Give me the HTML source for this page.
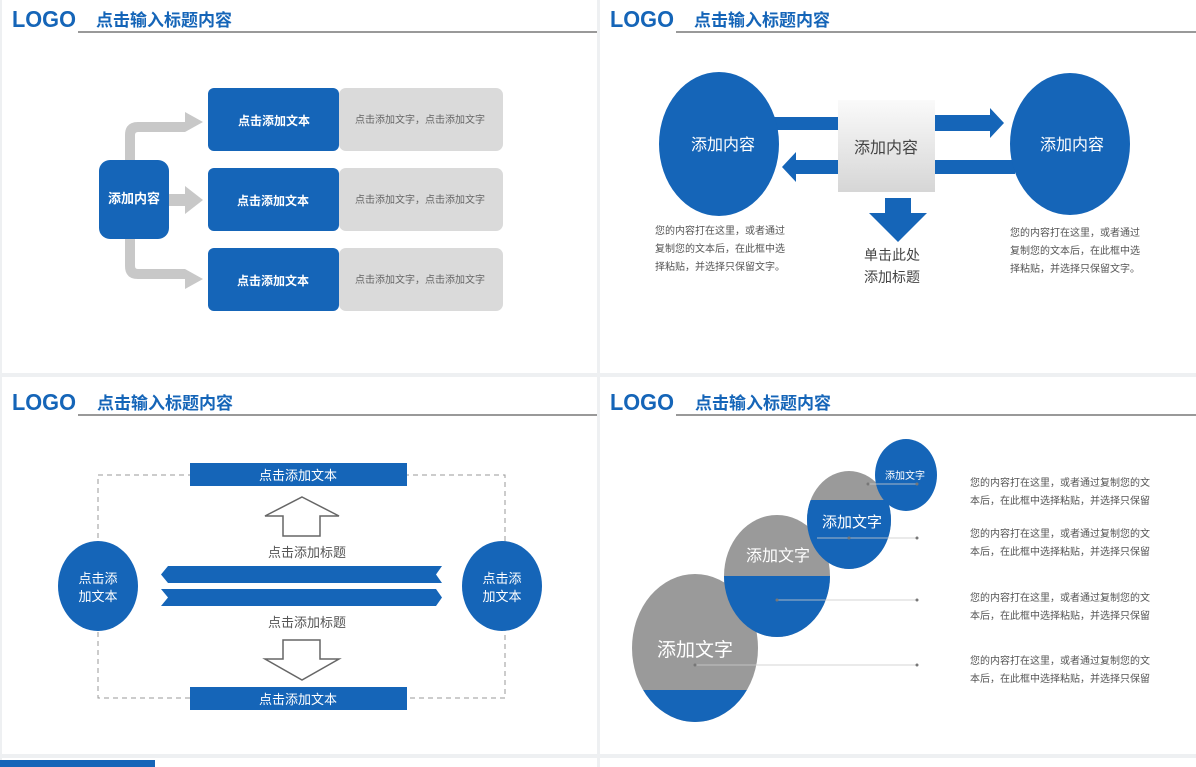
<!DOCTYPE html>
<html><head><meta charset="utf-8"><style>
html,body{margin:0;padding:0;background:#fff}
svg{display:block}
text{font-family:"Liberation Sans","Noto Sans CJK SC",sans-serif}
</style></head><body>
<svg width="1196" height="767" viewBox="0 0 1196 767" xmlns="http://www.w3.org/2000/svg">
<defs>
<linearGradient id="g1" x1="0" y1="0" x2="0" y2="1"><stop offset="0" stop-color="#fafafa"/><stop offset="1" stop-color="#d6d6d6"/></linearGradient>
<clipPath id="c1"><ellipse cx="695" cy="648" rx="63" ry="74"/></clipPath>
<clipPath id="c2"><ellipse cx="777" cy="576" rx="53" ry="61"/></clipPath>
<clipPath id="c3"><ellipse cx="849" cy="520" rx="42" ry="49"/></clipPath>
</defs>
<rect width="1196" height="767" fill="#fff"/>
<rect x="597" y="0" width="3" height="767" fill="#eef0f2"/>
<rect x="0" y="373" width="1196" height="4" fill="#eef0f2"/>
<rect x="0" y="754" width="1196" height="4" fill="#eef0f2"/>
<rect x="0" y="0" width="2" height="767" fill="#eef0f2"/>
<rect x="0" y="760" width="155" height="7" fill="#1565b8"/>

<g font-weight="bold" fill="#1565b8">
<text x="12" y="27" font-size="23" textLength="64" lengthAdjust="spacingAndGlyphs">LOGO</text>
<text x="96" y="26" font-size="17">点击输入标题内容</text>
<text x="610" y="27" font-size="23" textLength="64" lengthAdjust="spacingAndGlyphs">LOGO</text>
<text x="694" y="26" font-size="17">点击输入标题内容</text>
<text x="12" y="410" font-size="23" textLength="64" lengthAdjust="spacingAndGlyphs">LOGO</text>
<text x="97" y="409" font-size="17">点击输入标题内容</text>
<text x="610" y="410" font-size="23" textLength="64" lengthAdjust="spacingAndGlyphs">LOGO</text>
<text x="695" y="409" font-size="17">点击输入标题内容</text>
</g>
<g fill="#999">
<rect x="78" y="31" width="519" height="2"/>
<rect x="676" y="31" width="520" height="2"/>
<rect x="78" y="414" width="519" height="2"/>
<rect x="676" y="414" width="520" height="2"/>
</g>

<g fill="#c8c8c8">
<path d="M125 200 V135 Q125 122 138 122 H185 V112 L203 122 L185 132 V132 H138 Q135 132 135 135 V200Z"/>
<path d="M125 200 V266 Q125 279 138 279 H185 V289 L203 279 L185 269 V269 H138 Q135 269 135 266 V200Z"/>
<path d="M165 194 H185 V186 L203 200 L185 214 V206 H165Z"/>
</g>
<rect x="99" y="160" width="70" height="79" rx="11" fill="#1565b8"/>
<text x="134" y="203" font-size="13" font-weight="bold" fill="#fff" text-anchor="middle">添加内容</text>
<g>
<rect x="339" y="88" width="164" height="63" rx="7" fill="#dadada"/>
<rect x="339" y="168" width="164" height="63" rx="7" fill="#dadada"/>
<rect x="339" y="248" width="164" height="63" rx="7" fill="#dadada"/>
<rect x="208" y="88" width="131" height="63" rx="6" fill="#1565b8"/>
<rect x="208" y="168" width="131" height="63" rx="6" fill="#1565b8"/>
<rect x="208" y="248" width="131" height="63" rx="6" fill="#1565b8"/>
</g>
<g font-size="12" font-weight="bold" fill="#fff" text-anchor="middle">
<text x="274" y="125">点击添加文本</text>
<text x="273" y="205">点击添加文本</text>
<text x="273" y="285">点击添加文本</text>
</g>
<g font-size="10" fill="#666" text-anchor="middle">
<text x="420" y="123">点击添加文字，点击添加文字</text>
<text x="420" y="203">点击添加文字，点击添加文字</text>
<text x="420" y="283">点击添加文字，点击添加文字</text>
</g>

<g fill="#1565b8">
<rect x="770" y="117" width="70" height="13"/>
<path d="M935 115 H990 V108 L1004 123 L990 138 V131 H935Z"/>
<path d="M840 160 H796 V152 L782 167 L796 182 V174 H840Z"/>
<rect x="935" y="160" width="80" height="14"/>
<path d="M885 198 H911 V213 H927 L898 242 L869 213 H885Z"/>
<ellipse cx="719" cy="144" rx="60" ry="72"/>
<ellipse cx="1070" cy="144" rx="60" ry="71"/>
</g>
<rect x="838" y="100" width="97" height="92" fill="url(#g1)"/>
<g font-size="16" text-anchor="middle">
<text x="723" y="150" fill="#fff">添加内容</text>
<text x="1072" y="150" fill="#fff">添加内容</text>
<text x="886" y="153" fill="#444">添加内容</text>
<text x="892" y="260" font-size="14" fill="#444">单击此处</text>
<text x="892" y="282" font-size="14" fill="#444">添加标题</text>
</g>
<g font-size="10" fill="#555">
<text x="655" y="234">您的内容打在这里，或者通过</text>
<text x="655" y="252">复制您的文本后，在此框中选</text>
<text x="655" y="270">择粘贴，并选择只保留文字。</text>
<text x="1010" y="236">您的内容打在这里，或者通过</text>
<text x="1010" y="254">复制您的文本后，在此框中选</text>
<text x="1010" y="272">择粘贴，并选择只保留文字。</text>
</g>

<rect x="98" y="475" width="407" height="223" fill="none" stroke="#999" stroke-dasharray="5,4"/>
<g fill="#1565b8">
<rect x="190" y="463" width="217" height="23"/>
<rect x="190" y="687" width="217" height="23"/>
<ellipse cx="98" cy="586" rx="40" ry="45"/>
<ellipse cx="502" cy="586" rx="40" ry="45"/>
<path d="M168 566 H442 L436 574.5 L442 583 H168 L161 574.5Z"/>
<path d="M161 589 H436 L442 597.5 L436 606 H161 L168 597.5Z"/>
</g>
<g fill="#fff" stroke="#666" stroke-width="1.5">
<path d="M302 497 L339 516 H320 V536 H283 V516 H265Z"/>
<path d="M283 640 H320 V659 H339 L302 680 L265 659 H283Z"/>
</g>
<g font-size="13" fill="#fff" text-anchor="middle">
<text x="298" y="480">点击添加文本</text>
<text x="298" y="704">点击添加文本</text>
<text x="98" y="583">点击添</text>
<text x="98" y="601">加文本</text>
<text x="502" y="583">点击添</text>
<text x="502" y="601">加文本</text>
</g>
<g font-size="13" fill="#555" text-anchor="middle">
<text x="307" y="557">点击添加标题</text>
<text x="307" y="627">点击添加标题</text>
</g>

<g clip-path="url(#c1)"><rect x="630" y="570" width="130" height="155" fill="#9a9a9a"/><rect x="630" y="690" width="130" height="40" fill="#1565b8"/></g>
<g clip-path="url(#c2)"><rect x="720" y="510" width="115" height="130" fill="#9a9a9a"/><rect x="720" y="576" width="115" height="70" fill="#1565b8"/></g>
<g clip-path="url(#c3)"><rect x="800" y="468" width="95" height="105" fill="#9a9a9a"/><rect x="800" y="500" width="95" height="75" fill="#1565b8"/></g>
<ellipse cx="906" cy="475" rx="31" ry="36" fill="#1565b8"/>
<g stroke="#ccc" stroke-width="1" opacity="0.8">
<line x1="868" y1="484" x2="917" y2="484"/>
<line x1="817" y1="538" x2="917" y2="538"/>
<line x1="777" y1="600" x2="917" y2="600"/>
<line x1="695" y1="665" x2="917" y2="665"/>
</g>
<g fill="#777">
<circle cx="917" cy="484" r="1.5"/><circle cx="917" cy="538" r="1.5"/><circle cx="917" cy="600" r="1.5"/><circle cx="917" cy="665" r="1.5"/>
<circle cx="868" cy="484" r="1.5"/><circle cx="849" cy="538" r="1.5"/><circle cx="777" cy="600" r="1.5"/><circle cx="695" cy="665" r="1.5"/>
</g>
<g fill="#fff" text-anchor="middle">
<text x="695" y="656" font-size="19">添加文字</text>
<text x="778" y="561" font-size="16">添加文字</text>
<text x="852" y="527" font-size="15">添加文字</text>
<text x="905" y="479" font-size="10">添加文字</text>
</g>
<g font-size="10" fill="#555">
<text x="970" y="486">您的内容打在这里，或者通过复制您的文</text>
<text x="970" y="504">本后，在此框中选择粘贴，并选择只保留</text>
<text x="970" y="537">您的内容打在这里，或者通过复制您的文</text>
<text x="970" y="555">本后，在此框中选择粘贴，并选择只保留</text>
<text x="970" y="601">您的内容打在这里，或者通过复制您的文</text>
<text x="970" y="619">本后，在此框中选择粘贴，并选择只保留</text>
<text x="970" y="664">您的内容打在这里，或者通过复制您的文</text>
<text x="970" y="682">本后，在此框中选择粘贴，并选择只保留</text>
</g>
</svg>
</body></html>
